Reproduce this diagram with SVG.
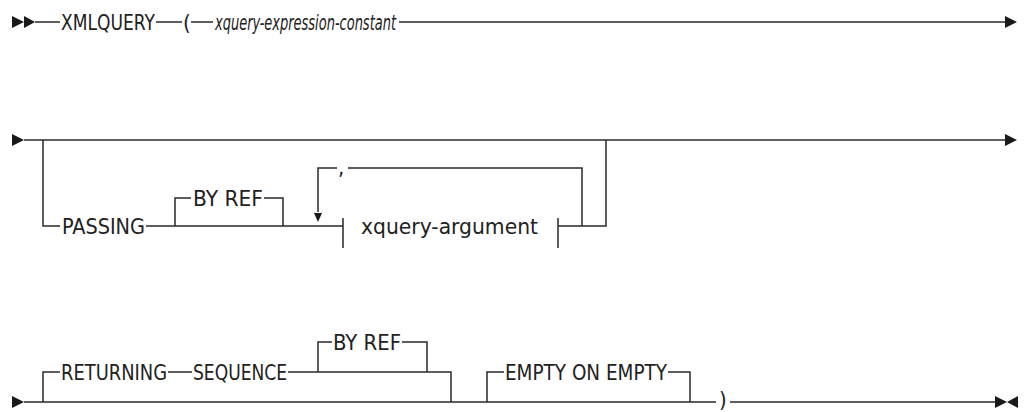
<svg xmlns="http://www.w3.org/2000/svg" width="1024" height="412" viewBox="0 0 1024 412">
<style>
.ln{fill:none;stroke:#2a2a2a;stroke-width:1.5}
.ah{fill:#1a1a1a;stroke:none}
text{font-family:"DejaVu Sans Condensed","Liberation Sans Narrow","DejaVu Sans",sans-serif;font-size:22px;fill:#222}
.it{font-style:italic}
</style>
<rect width="1024" height="412" fill="#fff"/>
<g id="connectors">
<path class="ln" d="M35 22H60M156 22H182M191 22H213M399 22H1006"/>
<polygon class="ah" points="12,16 24,22 12,28"/>
<polygon class="ah" points="24,16 35,22 24,28"/>
<polygon class="ah" points="1005,16 1017,22 1005,28"/>
<path class="ln" d="M24 140H1006"/>
<polygon class="ah" points="12,134 24,140 12,146"/>
<polygon class="ah" points="1005,134 1017,140 1005,146"/>
<path class="ln" d="M43 140V226H60M146 226H343M175 226V198H191M264 198H283V226M343 218V248M318 212V168H337M348 168H582V226M558 218V248M558 226H606V140"/>
<polygon class="ah" points="314,213 322,213 318,222"/>
<path class="ln" d="M24 402H716M730 402H996"/>
<polygon class="ah" points="12,396 24,402 12,408"/>
<polygon class="ah" points="995,396 1007,402 995,408"/>
<polygon class="ah" points="1018,396 1007,402 1018,408"/>
<path class="ln" d="M43 402V372H60M168 372H192M288 372H451V402M318 372V342H332M402 342H427V372M487 402V372H504M668 372H690V402"/>
</g>
<g id="n-xmlquery"><text x="61" y="30" textLength="94" lengthAdjust="spacingAndGlyphs">XMLQUERY</text></g>
<g id="n-lparen"><text x="183" y="30">(</text></g>
<g id="n-xqexpr"><text class="it" x="215" y="30" textLength="181" lengthAdjust="spacingAndGlyphs">xquery-expression-constant</text></g>
<g id="n-passing"><text x="62" y="234" textLength="83" lengthAdjust="spacingAndGlyphs">PASSING</text></g>
<g id="n-byref1"><text x="193" y="206" textLength="70" lengthAdjust="spacingAndGlyphs">BY REF</text></g>
<g id="n-comma"><text x="338" y="175">,</text></g>
<g id="n-xqarg"><text x="361" y="234" textLength="177" lengthAdjust="spacingAndGlyphs">xquery-argument</text></g>
<g id="n-returning"><text x="61" y="380" textLength="106" lengthAdjust="spacingAndGlyphs">RETURNING</text></g>
<g id="n-sequence"><text x="193" y="380" textLength="94" lengthAdjust="spacingAndGlyphs">SEQUENCE</text></g>
<g id="n-byref2"><text x="333" y="350" textLength="68" lengthAdjust="spacingAndGlyphs">BY REF</text></g>
<g id="n-empty"><text x="505" y="380" textLength="162" lengthAdjust="spacingAndGlyphs">EMPTY ON EMPTY</text></g>
<g id="n-rparen"><text x="719" y="407" font-size="20">)</text></g>
</svg>
